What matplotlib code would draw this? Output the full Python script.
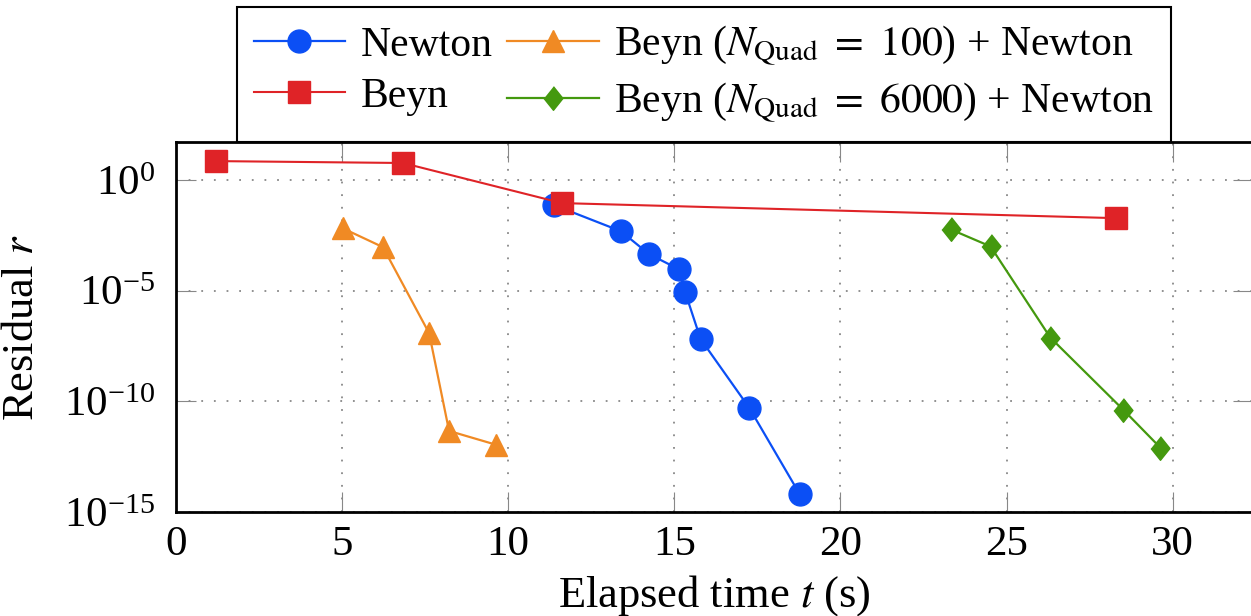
import matplotlib
matplotlib.use("Agg")
import matplotlib.pyplot as plt
from matplotlib.ticker import FixedLocator, NullLocator

plt.rcParams["font.family"] = ["Liberation Serif", "DejaVu Serif"]
plt.rcParams["mathtext.fontset"] = "stix"

# data
t_newton = [11.38, 13.39, 14.24, 15.14, 15.33, 15.79, 17.26, 18.78]
r_newton = [7.4e-2, 4.9e-3, 4.5e-4, 9.3e-5, 8.3e-6, 6.6e-8, 5.0e-11, 6.2e-15]

t_beyn = [1.2, 6.83, 11.62, 28.3]
r_beyn = [7.2, 5.9, 9.1e-2, 1.9e-2]

t_beyn100 = [5.03, 6.23, 7.62, 8.22, 9.63]
r_beyn100 = [6.5e-3, 9.3e-4, 1.2e-7, 4.6e-12, 1.1e-12]

t_beyn6000 = [23.32, 24.52, 26.32, 28.52, 29.63]
r_beyn6000 = [5.9e-3, 1.0e-3, 7.6e-8, 4.1e-11, 8.1e-13]

xticks = [0, 5, 10, 15, 20, 25, 30]
yticks = [1e-15, 1e-10, 1e-5, 1e0]

blue = "#0b4ff5"
red = "#df2327"
orange = "#f08a24"
green = "#44990e"

fs = 31

fig = plt.figure(figsize=(12.51, 6.16), dpi=100)
ax = fig.add_axes([176 / 1251, 1 - 512 / 616, 1077 / 1251, 370 / 616])

diamond = [(0, 1), (0.8, 0), (0, -1), (-0.8, 0)]

l1, = ax.plot(t_newton, r_newton, color=blue, lw=1.6, marker="o", ms=16.5,
              label="Newton", zorder=3)
l2, = ax.plot(t_beyn, r_beyn, color=red, lw=1.5, marker="s", ms=16,
              label="Beyn", zorder=4)
l3, = ax.plot(t_beyn100, r_beyn100, color=orange, lw=1.6, marker="^", ms=16,
              label=r"Beyn ($N_{\mathrm{Quad}}\ =\ 100$) + Newton", zorder=3)
l4, = ax.plot(t_beyn6000, r_beyn6000, color=green, lw=1.6, marker=diamond, ms=17,
              label=r"Beyn ($N_{\mathrm{Quad}}\ =\ 6000$) + Newton", zorder=3)

ax.set_yscale("log")
ax.set_xlim(0, 1077 / 33.22)
ax.set_ylim(1e-15, 10 ** 1.72)
ax.xaxis.set_major_locator(FixedLocator(xticks))
ax.yaxis.set_major_locator(FixedLocator(yticks))
ax.yaxis.set_minor_locator(NullLocator())

ax.grid(True, which="major", color="#888888", linestyle=(0, (1, 6)), lw=1.3)
ax.tick_params(which="major", direction="in", length=14.5, width=0.8,
               color="#888888", labelsize=fs, top=True, right=True,
               labelcolor="black")
ax.tick_params(axis="x", pad=10)
ax.tick_params(axis="y", pad=15)

for s in ax.spines.values():
    s.set_linewidth(2)
ax.spines["right"].set_visible(False)

ax.set_xlabel(r"Elapsed time $t$ (s)", fontsize=32)
ax.set_ylabel(r"Residual $r$", fontsize=32)
ax.xaxis.set_label_coords(0.5, -0.165)
ax.yaxis.set_label_coords(-0.124, 0.5)

leg = fig.legend(handles=[l1, l2, l3, l4], ncol=2, fontsize=30,
                 loc="lower left", bbox_to_anchor=(237 / 1251, 1 - 142 / 616),
                 frameon=True, fancybox=False, edgecolor="black", framealpha=1,
                 handlelength=2.2, handletextpad=0.37, columnspacing=0.35,
                 labelspacing=0.3, borderpad=0.4, borderaxespad=0)
leg.get_frame().set_linewidth(1.5)

fig.savefig("out.png", dpi=100)
